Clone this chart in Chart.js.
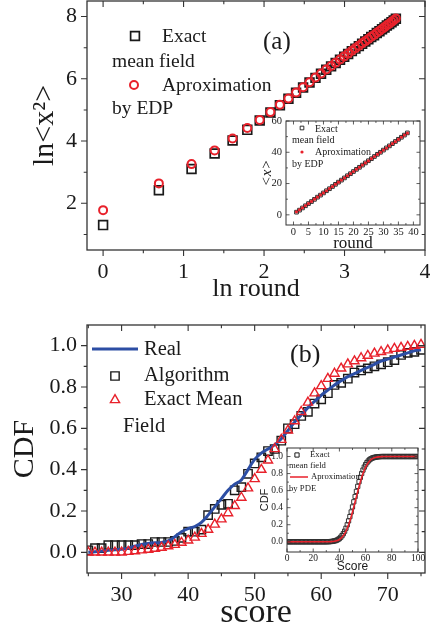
<!DOCTYPE html>
<html>
<head>
<meta charset="utf-8">
<script src="https://cdn.jsdelivr.net/npm/chart.js@4"></script>
<style>
  body { margin: 0; background: #fff; width: 430px; height: 633px; overflow: hidden; position: relative; }
  canvas { position: absolute; }
</style>
</head>
<body>
<canvas id="mainA" width="430" height="310" style="left:0;top:0;width:430px;height:310px"></canvas>
<canvas id="insetA" width="166" height="136" style="left:258px;top:116px;width:166px;height:136px"></canvas>
<canvas id="mainB" width="430" height="323" style="left:0;top:310px;width:430px;height:323px"></canvas>
<canvas id="insetB" width="170" height="135" style="left:258px;top:440px;width:170px;height:135px"></canvas>
<script>
// ---- panel (a): ln<x^2> against ln round ----
var lnRound = [0, 0.693, 1.099, 1.386, 1.609, 1.792, 1.946, 2.079, 2.197, 2.303, 2.398, 2.485, 2.565, 2.639, 2.708, 2.773, 2.833, 2.890, 2.944, 2.996, 3.045, 3.091, 3.135, 3.178, 3.219, 3.258, 3.296, 3.332, 3.367, 3.401, 3.434, 3.466, 3.497, 3.526, 3.555, 3.584, 3.611, 3.638];
var lnX2Exact = [1.30, 2.42, 3.10, 3.60, 4.02, 4.36, 4.66, 4.92, 5.15, 5.36, 5.55, 5.72, 5.88, 6.03, 6.16, 6.29, 6.40, 6.51, 6.61, 6.71, 6.80, 6.89, 6.97, 7.05, 7.13, 7.20, 7.27, 7.34, 7.40, 7.47, 7.53, 7.59, 7.65, 7.71, 7.76, 7.82, 7.87, 7.93];
var lnX2Edp = [1.78, 2.64, 3.26, 3.70, 4.08, 4.42, 4.68, 4.93, 5.17, 5.37, 5.56, 5.73, 5.89, 6.04, 6.17, 6.30, 6.41, 6.52, 6.62, 6.72, 6.81, 6.90, 6.98, 7.06, 7.14, 7.21, 7.28, 7.35, 7.41, 7.48, 7.54, 7.60, 7.66, 7.72, 7.77, 7.83, 7.88, 7.94];

// inset (a): <x> against round
var rounds = [1, 2, 3, 4, 5, 6, 7, 8, 9, 10, 11, 12, 13, 14, 15, 16, 17, 18, 19, 20, 21, 22, 23, 24, 25, 26, 27, 28, 29, 30, 31, 32, 33, 34, 35, 36, 37, 38];
var meanExact = [1.7, 3.0, 4.4, 5.8, 7.2, 8.5, 9.9, 11.3, 12.6, 14.0, 15.4, 16.7, 18.1, 19.5, 20.9, 22.2, 23.6, 25.0, 26.3, 27.7, 29.1, 30.4, 31.8, 33.2, 34.6, 35.9, 37.3, 38.7, 40.0, 41.4, 42.8, 44.1, 45.5, 46.9, 48.3, 49.6, 51.0, 52.4];
var meanEdp = [1.9, 3.2, 4.5, 5.9, 7.2, 8.6, 10.0, 11.3, 12.7, 14.0, 15.4, 16.8, 18.1, 19.5, 20.9, 22.2, 23.6, 25.0, 26.3, 27.7, 29.1, 30.4, 31.8, 33.2, 34.5, 35.9, 37.3, 38.6, 40.0, 41.4, 42.7, 44.1, 45.5, 46.8, 48.2, 49.6, 51.0, 52.3];

// ---- panel (b): CDF against score ----
var scores = [25, 26, 27, 28, 29, 30, 31, 32, 33, 34, 35, 36, 37, 38, 39, 40, 41, 42, 43, 44, 45, 46, 47, 48, 49, 50, 51, 52, 53, 54, 55, 56, 57, 58, 59, 60, 61, 62, 63, 64, 65, 66, 67, 68, 69, 70, 71, 72, 73, 74, 75];
var cdfReal = [0.0, 0.003, 0.006, 0.01, 0.012, 0.015, 0.02, 0.03, 0.038, 0.043, 0.046, 0.048, 0.055, 0.075, 0.10, 0.115, 0.125, 0.145, 0.18, 0.22, 0.26, 0.30, 0.33, 0.35, 0.40, 0.45, 0.48, 0.50, 0.52, 0.55, 0.59, 0.63, 0.665, 0.70, 0.73, 0.76, 0.785, 0.81, 0.83, 0.85, 0.865, 0.88, 0.895, 0.91, 0.925, 0.935, 0.945, 0.955, 0.965, 0.975, 0.98];
var cdfAlgorithm = [0.01, 0.02, 0.02, 0.035, 0.035, 0.035, 0.035, 0.035, 0.04, 0.04, 0.05, 0.05, 0.05, 0.055, 0.07, 0.10, 0.10, 0.11, 0.18, 0.21, 0.23, 0.235, 0.30, 0.315, 0.38, 0.43, 0.46, 0.49, 0.50, 0.54, 0.60, 0.62, 0.66, 0.68, 0.72, 0.74, 0.77, 0.81, 0.82, 0.84, 0.87, 0.88, 0.89, 0.90, 0.91, 0.92, 0.93, 0.955, 0.965, 0.97, 0.98];
var cdfMeanField = [0, 0, 0, 0, 0, 0, 0.003, 0.006, 0.01, 0.013, 0.018, 0.023, 0.03, 0.037, 0.047, 0.058, 0.072, 0.09, 0.11, 0.135, 0.16, 0.19, 0.225, 0.265, 0.31, 0.355, 0.40, 0.445, 0.50, 0.545, 0.59, 0.635, 0.68, 0.725, 0.77, 0.805, 0.84, 0.865, 0.89, 0.91, 0.925, 0.94, 0.952, 0.962, 0.97, 0.978, 0.985, 0.99, 0.995, 1.0, 1.005];

// inset (b): full score range
var scoresAll = [0, 1, 2, 3, 4, 5, 6, 7, 8, 9, 10, 11, 12, 13, 14, 15, 16, 17, 18, 19, 20, 21, 22, 23, 24, 25, 26, 27, 28, 29, 30, 31, 32, 33, 34, 35, 36, 37, 38, 39, 40, 41, 42, 43, 44, 45, 46, 47, 48, 49, 50, 51, 52, 53, 54, 55, 56, 57, 58, 59, 60, 61, 62, 63, 64, 65, 66, 67, 68, 69, 70, 71, 72, 73, 74, 75, 76, 77, 78, 79, 80, 81, 82, 83, 84, 85, 86, 87, 88, 89, 90, 91, 92, 93, 94, 95, 96, 97, 98, 99, 100];
var cdfExactAll = [0, 0, 0, 0, 0, 0, 0, 0, 0, 0, 0, 0, 0, 0, 0, 0, 0, 0, 0, 0, 0, 0, 0, 0, 0, 0, 0, 0, 0, 0, 0,
  0.001, 0.001, 0.002, 0.004, 0.006, 0.009, 0.013, 0.019, 0.027, 0.038,
  0.053, 0.072, 0.095, 0.124, 0.159, 0.199, 0.245, 0.295, 0.35, 0.409,
  0.469, 0.531, 0.591, 0.65, 0.705, 0.755, 0.801, 0.841, 0.876, 0.905,
  0.928, 0.947, 0.962, 0.973, 0.981, 0.987, 0.991, 0.994, 0.996, 0.998, 0.999,
  1, 1, 1, 1, 1, 1, 1, 1, 1, 1, 1, 1, 1, 1, 1, 1, 1, 1, 1, 1, 1, 1, 1, 1, 1, 1, 1, 1, 1];
var pdeScore = [0, 10, 20, 30, 32, 34, 36, 38, 40, 42, 44, 46, 48, 50, 52, 54, 56, 58, 60, 62, 64, 66, 68, 70, 72, 74, 80, 90, 100];
var pdeCdf = [0, 0, 0, 0.0003, 0.0008, 0.0022, 0.0055, 0.0129, 0.027, 0.053, 0.095, 0.159, 0.245, 0.35, 0.469, 0.591, 0.705, 0.801, 0.876, 0.928, 0.962, 0.981, 0.991, 0.9964, 0.9987, 0.9995, 1, 1, 1];

// tick positions and which of them carry a label
var aXTicks = [0, 0.5, 1, 1.5, 2, 2.5, 3, 3.5, 4];
var aXLabels = [0, 1, 2, 3, 4];
var aYTicks = [1, 2, 3, 4, 5, 6, 7, 8];
var aYLabels = [2, 4, 6, 8];
var iaXTicks = [0, 2.5, 5, 7.5, 10, 12.5, 15, 17.5, 20, 22.5, 25, 27.5, 30, 32.5, 35, 37.5, 40];
var iaXLabels = [0, 5, 10, 15, 20, 25, 30, 35, 40];
var iaYTicks = [0, 10, 20, 30, 40, 50, 60];
var iaYLabels = [0, 20, 40, 60];
var bXTicks = [25, 30, 35, 40, 45, 50, 55, 60, 65, 70, 75];
var bXLabels = [30, 40, 50, 60, 70];
var bYTicks = [0, 0.1, 0.2, 0.3, 0.4, 0.5, 0.6, 0.7, 0.8, 0.9, 1.0];
var bYLabels = [0, 0.2, 0.4, 0.6, 0.8, 1.0];
var ibXTicks = [0, 10, 20, 30, 40, 50, 60, 70, 80, 90, 100];
var ibXLabels = [0, 20, 40, 60, 80, 100];
var ibYTicks = [0, 0.1, 0.2, 0.3, 0.4, 0.5, 0.6, 0.7, 0.8, 0.9, 1.0];
var ibYLabels = [0, 0.2, 0.4, 0.6, 0.8, 1.0];

var RED = '#e8212b';
var BLUE = '#2c4ea4';
var INK = '#1a1a1a';
var SERIF = '"Liberation Serif", "Times New Roman", serif';
var SANS = '"Liberation Sans", Arial, sans-serif';

function pts(xs, ys) {
  return xs.map(function (x, i) { return { x: x, y: ys[i] }; });
}

// one axis with fixed size, explicit ticks, labels only on the listed values
function axis(o) {
  return {
    type: 'linear',
    position: o.position,
    min: o.min,
    max: o.max,
    grid: { display: false, drawTicks: false },
    border: { display: false },
    afterBuildTicks: function (s) {
      s.ticks = o.ticks.map(function (v) { return { value: v }; });
    },
    afterFit: function (s) {
      if (o.position === 'bottom') s.height = o.size; else s.width = o.size;
      s.paddingTop = 0; s.paddingBottom = 0; s.paddingLeft = 0; s.paddingRight = 0;
    },
    ticks: {
      autoSkip: false, maxRotation: 0, minRotation: 0,
      padding: o.pad, color: INK,
      font: { family: o.family || SERIF, size: o.fontSize },
      callback: function (v) {
        var hit = o.labels.some(function (l) { return Math.abs(l - v) < 1e-6; });
        return hit ? (o.fmt ? o.fmt(v) : String(v)) : '';
      }
    },
    title: {
      display: true, text: o.title, color: INK,
      font: { family: o.titleFamily || SERIF, size: o.titleSize, lineHeight: 1, style: o.titleStyle || 'normal' },
      padding: o.titlePad
    }
  };
}

// box around the plot area plus major/minor tick marks on all four sides
var frames = {
  mainA: { color: '#333', width: 1.3, tickWidth: 1.1, len: 6, out: ['bottom', 'left'] },
  insetA: { color: '#333', width: 1, tickWidth: 0.8, len: 3.5, out: [], fill: '#fff' },
  mainB: { color: '#333', width: 1.3, tickWidth: 1.1, len: 6, out: ['bottom', 'left'] },
  insetB: { color: '#333', width: 1, tickWidth: 0.8, len: 3.5, out: [], fill: '#fff' }
};

var framePlugin = {
  id: 'frame',
  beforeDraw: function (chart) {
    var f = frames[chart.canvas.id];
    if (!f.fill) return;
    var a = chart.chartArea, ctx = chart.ctx;
    ctx.save();
    ctx.fillStyle = f.fill;
    ctx.fillRect(a.left, a.top, a.right - a.left, a.bottom - a.top);
    ctx.restore();
  },
  afterDraw: function (chart) {
    var f = frames[chart.canvas.id];
    var ctx = chart.ctx, a = chart.chartArea;
    var xs = chart.scales.x, ys = chart.scales.y;
    ctx.save();
    ctx.strokeStyle = f.color;
    ctx.lineWidth = f.width;
    ctx.strokeRect(a.left, a.top, a.right - a.left, a.bottom - a.top);
    ctx.lineWidth = f.tickWidth;
    ctx.beginPath();
    xs.ticks.forEach(function (t) {
      var p = xs.getPixelForValue(t.value);
      var l = t.label ? f.len : f.len * 0.55;
      var db = f.out.indexOf('bottom') >= 0 ? l : -l;
      ctx.moveTo(p, a.bottom); ctx.lineTo(p, a.bottom + db);
      ctx.moveTo(p, a.top); ctx.lineTo(p, a.top + l);
    });
    ys.ticks.forEach(function (t) {
      var p = ys.getPixelForValue(t.value);
      var l = t.label ? f.len : f.len * 0.55;
      var dl = f.out.indexOf('left') >= 0 ? -l : l;
      ctx.moveTo(a.left, p); ctx.lineTo(a.left + dl, p);
      ctx.moveTo(a.right, p); ctx.lineTo(a.right - l, p);
    });
    ctx.stroke();
    ctx.restore();
  }
};

// hand-placed legend entries and panel letters, per canvas
var notes = {
  mainA: [
    { kind: 'mark', shape: 'rect', r: 6.2, bw: 1.7, stroke: INK, x: 135, y: 36 },
    { kind: 'text', text: 'Exact', x: 162, y: 37, size: 19.5 },
    { kind: 'text', text: 'mean field', x: 112, y: 62, size: 19.5 },
    { kind: 'mark', shape: 'circle', r: 4, bw: 2, stroke: RED, x: 134, y: 85 },
    { kind: 'text', text: 'Aproximation', x: 162, y: 86, size: 19.5 },
    { kind: 'text', text: 'by EDP', x: 112, y: 109, size: 19.5 },
    { kind: 'text', text: '(a)', x: 263, y: 42, size: 25 }
  ],
  insetA: [
    { kind: 'mark', shape: 'rect', r: 2.6, bw: 0.9, stroke: INK, x: 44, y: 12 },
    { kind: 'text', text: 'Exact', x: 57, y: 13, size: 10 },
    { kind: 'text', text: 'mean field', x: 34, y: 24, size: 10 },
    { kind: 'mark', shape: 'circle', r: 1.6, bw: 0, paint: RED, x: 44, y: 36 },
    { kind: 'text', text: 'Aproximation', x: 57, y: 36, size: 10 },
    { kind: 'text', text: 'by EDP', x: 34, y: 48, size: 10 }
  ],
  mainB: [
    { kind: 'line', x1: 92, x2: 138, y: 39, stroke: BLUE, w: 3 },
    { kind: 'text', text: 'Real', x: 144, y: 40, size: 20.5 },
    { kind: 'mark', shape: 'rect', r: 5.9, bw: 1.4, stroke: INK, x: 115, y: 66 },
    { kind: 'text', text: 'Algorithm', x: 144, y: 66, size: 20.5 },
    { kind: 'mark', shape: 'triangle', r: 5.3, bw: 1.4, stroke: RED, x: 115, y: 90 },
    { kind: 'text', text: 'Exact Mean', x: 144, y: 90, size: 20.5 },
    { kind: 'text', text: 'Field', x: 123, y: 117, size: 20.5 },
    { kind: 'text', text: '(b)', x: 290, y: 45, size: 26 }
  ],
  insetB: [
    { kind: 'mark', shape: 'rect', r: 3, bw: 1, stroke: INK, x: 39, y: 15 },
    { kind: 'text', text: 'Exact', x: 52, y: 15, size: 8.7 },
    { kind: 'text', text: 'mean field', x: 31, y: 26, size: 8.7 },
    { kind: 'line', x1: 32, x2: 50, y: 37, stroke: RED, w: 1.5 },
    { kind: 'text', text: 'Aproximation', x: 53, y: 37, size: 8.7 },
    { kind: 'text', text: 'by PDE', x: 31, y: 49, size: 8.7 }
  ]
};

function markerPath(ctx, shape, x, y, r) {
  ctx.beginPath();
  if (shape === 'rect') {
    var s = r / Math.SQRT2;
    ctx.rect(x - s, y - s, 2 * s, 2 * s);
  } else if (shape === 'triangle') {
    for (var k = 0; k < 3; k++) {
      var ang = k * 2 * Math.PI / 3;
      var px = x + Math.sin(ang) * r, py = y - Math.cos(ang) * r;
      if (k === 0) ctx.moveTo(px, py); else ctx.lineTo(px, py);
    }
    ctx.closePath();
  } else {
    ctx.arc(x, y, r, 0, 2 * Math.PI);
  }
}

var notesPlugin = {
  id: 'notes',
  afterDraw: function (chart) {
    var ctx = chart.ctx;
    (notes[chart.canvas.id] || []).forEach(function (it) {
      ctx.save();
      if (it.kind === 'text') {
        ctx.fillStyle = INK;
        ctx.font = it.size + 'px ' + SERIF;
        ctx.textBaseline = 'middle';
        ctx.textAlign = 'left';
        ctx.fillText(it.text, it.x, it.y);
      } else if (it.kind === 'line') {
        ctx.strokeStyle = it.stroke;
        ctx.lineWidth = it.w;
        ctx.beginPath();
        ctx.moveTo(it.x1, it.y); ctx.lineTo(it.x2, it.y);
        ctx.stroke();
      } else {
        markerPath(ctx, it.shape, it.x, it.y, it.r);
        if (it.paint) { ctx.fillStyle = it.paint; ctx.fill(); }
        if (it.bw > 0) { ctx.strokeStyle = it.stroke; ctx.lineWidth = it.bw; ctx.stroke(); }
      }
      ctx.restore();
    });
  }
};

function baseOptions(padding, scales) {
  return {
    responsive: false,
    animation: false,
    devicePixelRatio: 1,
    layout: { padding: padding, autoPadding: false },
    plugins: { legend: { display: false }, tooltip: { enabled: false } },
    scales: scales
  };
}

// ---------- panel (a) ----------
new Chart(document.getElementById('mainA'), {
  type: 'scatter',
  data: {
    datasets: [
      { label: 'Aproximation by EDP', data: pts(lnRound, lnX2Edp), pointStyle: 'circle', pointRadius: 4, borderWidth: 2, borderColor: RED, backgroundColor: 'rgba(0,0,0,0)', order: 0 },
      { label: 'Exact mean field', data: pts(lnRound, lnX2Exact), pointStyle: 'rect', pointRadius: 6.2, borderWidth: 1.7, borderColor: INK, backgroundColor: 'rgba(0,0,0,0)', order: 1 }
    ]
  },
  options: baseOptions({ top: 1, right: 5, left: 0, bottom: 0 }, {
    x: axis({ position: 'bottom', min: -0.2, max: 4, ticks: aXTicks, labels: aXLabels, size: 60, pad: 9, fontSize: 22,
      title: 'ln round', titleSize: 26, titlePad: { top: 0, bottom: 8 } }),
    y: axis({ position: 'left', min: 0.5, max: 8.5, ticks: aYTicks, labels: aYLabels, size: 87, pad: 10, fontSize: 22,
      title: 'ln<x\u00b2>', titleSize: 30, titlePad: { top: 30, bottom: 0 } })
  }),
  plugins: [framePlugin, notesPlugin]
});

new Chart(document.getElementById('insetA'), {
  type: 'scatter',
  data: {
    datasets: [
      { label: 'Aproximation by EDP', data: pts(rounds, meanEdp), pointStyle: 'circle', pointRadius: 1.6, borderWidth: 0, borderColor: RED, backgroundColor: RED, order: 0 },
      { label: 'Exact mean field', data: pts(rounds, meanExact), pointStyle: 'rect', pointRadius: 2.6, borderWidth: 0.9, borderColor: INK, backgroundColor: 'rgba(0,0,0,0)', order: 1 }
    ]
  },
  options: baseOptions({ top: 5, right: 4, left: 0, bottom: 0 }, {
    x: axis({ position: 'bottom', min: -2.5, max: 42.2, ticks: iaXTicks, labels: iaXLabels, size: 27, pad: 1, fontSize: 10.5,
      title: 'round', titleSize: 17, titlePad: { top: 0, bottom: 0 } }),
    y: axis({ position: 'left', min: -6.5, max: 60, ticks: iaYTicks, labels: iaYLabels, size: 28, pad: 4, fontSize: 10.5,
      title: '<x>', titleSize: 15, titleStyle: 'italic', titlePad: { top: 2, bottom: 0 } })
  }),
  plugins: [framePlugin, notesPlugin]
});

// ---------- panel (b) ----------
new Chart(document.getElementById('mainB'), {
  type: 'scatter',
  data: {
    datasets: [
      { label: 'Exact Mean Field', data: pts(scores, cdfMeanField), pointStyle: 'triangle', pointRadius: 5.3, borderWidth: 1.4, borderColor: RED, backgroundColor: 'rgba(0,0,0,0)', order: 0 },
      { label: 'Real', data: pts(scores, cdfReal), showLine: true, pointRadius: 0, borderWidth: 3, borderColor: BLUE, cubicInterpolationMode: 'monotone', order: 1 },
      { label: 'Algorithm', data: pts(scores, cdfAlgorithm), pointStyle: 'rect', pointRadius: 5.9, borderWidth: 1.4, borderColor: INK, backgroundColor: 'rgba(0,0,0,0)', order: 2 }
    ]
  },
  options: baseOptions({ top: 15, right: 5, left: 0, bottom: 0 }, {
    x: axis({ position: 'bottom', min: 24.8, max: 75.6, ticks: bXTicks, labels: bXLabels, size: 60, pad: 9, fontSize: 22,
      title: 'score', titleSize: 34, titlePad: { top: 0, bottom: 3 } }),
    y: axis({ position: 'left', min: -0.1, max: 1.1, ticks: bYTicks, labels: bYLabels, size: 87, pad: 10, fontSize: 22,
      fmt: function (v) { return v.toFixed(1); },
      title: 'CDF', titleSize: 30, titlePad: { top: 10, bottom: 0 } })
  }),
  plugins: [framePlugin, notesPlugin]
});

new Chart(document.getElementById('insetB'), {
  type: 'scatter',
  data: {
    datasets: [
      { label: 'Aproximation by PDE', data: pts(pdeScore, pdeCdf), showLine: true, pointRadius: 0, borderWidth: 1.6, borderColor: RED, cubicInterpolationMode: 'monotone', order: 0 },
      { label: 'Exact mean field', data: pts(scoresAll, cdfExactAll), pointStyle: 'rect', pointRadius: 3, borderWidth: 1, borderColor: '#333', backgroundColor: 'rgba(0,0,0,0)', order: 1 }
    ]
  },
  options: baseOptions({ top: 8, right: 10, left: 0, bottom: 0 }, {
    x: axis({ position: 'bottom', min: 0, max: 100, ticks: ibXTicks, labels: ibXLabels, size: 23, pad: 1, fontSize: 9.5,
      title: 'Score', titleFamily: SANS, titleSize: 12, titlePad: { top: 0, bottom: 2 } }),
    y: axis({ position: 'left', min: -0.12, max: 1.1, ticks: ibYTicks, labels: ibYLabels, size: 29, pad: 4, fontSize: 9.5,
      fmt: function (v) { return v.toFixed(1); },
      title: 'CDF', titleFamily: SANS, titleSize: 11, titlePad: { top: 1, bottom: 0 } })
  }),
  plugins: [framePlugin, notesPlugin]
});
</script>
</body>
</html>
